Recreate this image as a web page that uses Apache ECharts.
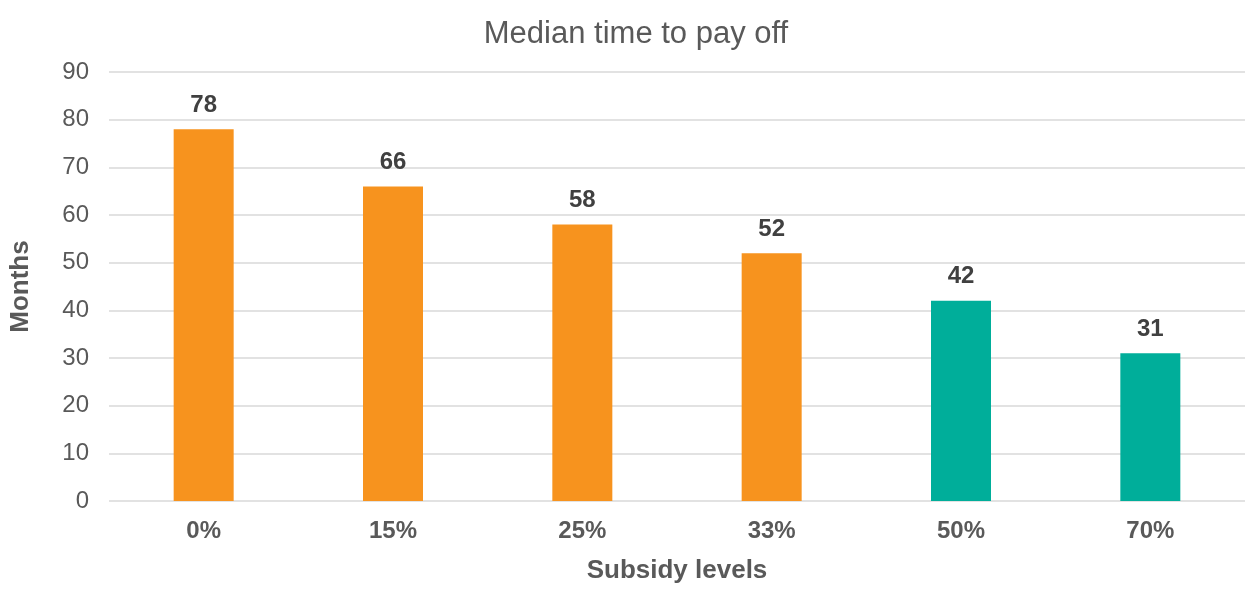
<!DOCTYPE html>
<html>
<head>
<meta charset="utf-8">
<script src="https://cdn.jsdelivr.net/npm/echarts@6/dist/echarts.min.js"></script>
<style>
  html, body { margin: 0; padding: 0; background: #fff; overflow: hidden; }
  #chart { width: 1245px; height: 589px; }
</style>
</head>
<body>
<div id="chart"></div>
<script>
// Subsidy levels and median months to pay off
const categories = ['0%', '15%', '25%', '33%', '50%', '70%'];
const months = [78, 66, 58, 52, 42, 31];
const barColors = ['#F7931E', '#F7931E', '#F7931E', '#F7931E', '#00AE9A', '#00AE9A'];
const yTicks = { min: 0, max: 90, interval: 10 };

const font = 'Liberation Sans, Arial, sans-serif';
const chart = echarts.init(document.getElementById('chart'));

chart.setOption({
  animation: false,
  backgroundColor: '#ffffff',
  title: {
    text: 'Median time to pay off',
    left: 631,
    top: 14,
    textAlign: 'center',
    textStyle: { fontFamily: font, fontSize: 31, fontWeight: 'normal', color: '#595959' }
  },
  grid: { left: 108, right: -12, top: 72, bottom: 82, containLabel: false },
  xAxis: {
    type: 'category',
    data: categories,
    name: 'Subsidy levels',
    nameLocation: 'middle',
    nameGap: 57,
    nameTextStyle: { fontFamily: font, fontSize: 26, fontWeight: 'bold', color: '#595959' },
    axisLine: { show: false },
    axisTick: { show: false },
    axisLabel: { margin: 18, fontFamily: font, fontSize: 24, fontWeight: 'bold', color: '#595959' }
  },
  yAxis: {
    type: 'value',
    min: yTicks.min,
    max: yTicks.max,
    interval: yTicks.interval,
    name: 'Months',
    nameLocation: 'middle',
    nameGap: 75,
    nameRotate: 90,
    nameTextStyle: { fontFamily: font, fontSize: 26, fontWeight: 'bold', color: '#595959' },
    axisLine: { show: false },
    axisTick: { show: false },
    axisLabel: { margin: 20, fontFamily: font, fontSize: 24, color: '#595959' },
    splitLine: { lineStyle: { color: '#D9D9D9', width: 1.5 } }
  },
  series: [{
    type: 'bar',
    barWidth: 60,
    data: months.map((v, i) => ({ value: v, itemStyle: { color: barColors[i] } })),
    label: {
      show: true,
      position: 'top',
      distance: 12,
      fontFamily: font,
      fontSize: 24,
      fontWeight: 'bold',
      color: '#404040'
    }
  }]
});
</script>
</body>
</html>
